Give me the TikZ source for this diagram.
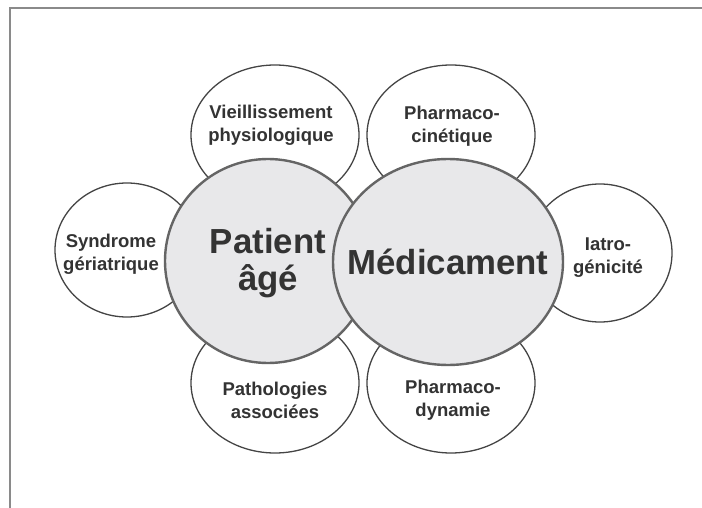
\documentclass[tikz,border=0pt]{standalone}
\usepackage{fontspec}
\setmainfont{Liberation Sans}
\usepackage{tikz}
\usepackage{xcolor}
\usetikzlibrary{shapes.geometric}
\definecolor{lineGray}{HTML}{444444}
\definecolor{rimGray}{HTML}{656565}
\definecolor{discGray}{HTML}{E8E8EA}
\definecolor{textGray}{HTML}{333333}
\definecolor{frameGray}{HTML}{8A8A8A}
\tikzstyle{outerBubble}=[ellipse, draw=lineGray, line width=1.3pt, fill=white, inner sep=0pt]
\tikzstyle{mainBubble}=[ellipse, draw=rimGray, line width=2.4pt, fill=discGray, inner sep=0pt]
\tikzstyle{smallLabel}=[text=textGray, align=center, font=\fontsize{18.5}{23}\selectfont\bfseries]
\tikzstyle{bigLabel}=[text=textGray, align=center, font=\fontsize{34.8}{37}\selectfont\bfseries]
\tikzstyle{frameLine}=[draw=frameGray, line width=2pt]

\begin{document}
\begin{tikzpicture}[x=1pt, y=-1pt]
   \useasboundingbox (0,0) rectangle (702,508);
   \draw[frameLine] (702,8) -- (10,8) -- (10,508);

   % six outer bubbles
   \node[outerBubble, minimum width=168pt, minimum height=140pt] (vieil) at (275,135) {};
   \node[outerBubble, minimum width=168pt, minimum height=140pt] (cinet) at (451,135) {};
   \node[outerBubble, minimum width=168pt, minimum height=140pt] (patho) at (275,383) {};
   \node[outerBubble, minimum width=168pt, minimum height=140pt] (dyna) at (451,383) {};
   \node[outerBubble, minimum width=144pt, minimum height=134pt] (synd) at (127,250) {};
   \node[outerBubble, minimum width=144pt, minimum height=138pt] (iatro) at (600,253) {};

   \node[smallLabel] (vieilText) at (271,125) {Vieillissement\\physiologique};
   \node[smallLabel] (cinetText) at (452,126) {Pharmaco-\\cinétique};
   \node[smallLabel] (pathoText) at (275,400) {Pathologies\\associées};
   \node[smallLabel] (dynaText) at (453,400) {Pharmaco-\\dynamie};
   \node[smallLabel] (syndText) at (111,254) {Syndrome\\gériatrique};
   \node[smallLabel] (iatroText) at (608,258) {Iatro-\\génicité};

   % the two central discs
   \node[mainBubble, minimum width=206pt, minimum height=204pt] (patient) at (268,261) {};
   \node[mainBubble, minimum width=230pt, minimum height=206pt] (medic) at (448,262) {};
   \node[bigLabel] (patientText) at ([yshift=-2pt]patient) {Patient\\âgé};
   \node[bigLabel] (medicText) at (medic) {Médicament};

\end{tikzpicture}
\end{document}
